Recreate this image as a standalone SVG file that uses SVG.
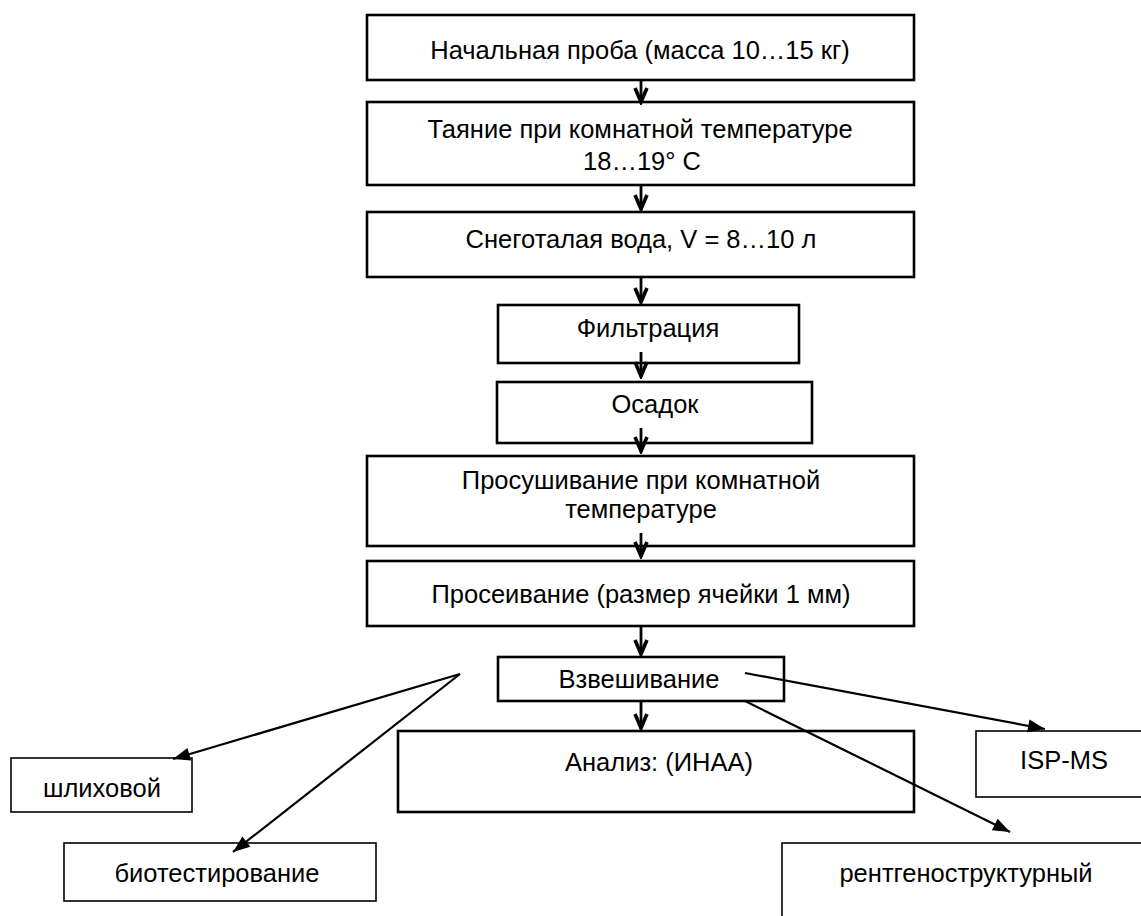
<svg xmlns="http://www.w3.org/2000/svg" width="1141" height="916" viewBox="0 0 1141 916">
<style>
.b{fill:#fff;stroke:#000;stroke-width:2.6}
.t{fill:#fff;stroke:#000;stroke-width:1.6}
text{font-family:"Liberation Sans","Open Sans",sans-serif;font-size:25.5px;fill:#000;text-anchor:middle}
.c line{stroke:#000;stroke-width:2.2}
.v line{stroke:#000;stroke-width:2.8}
</style>
<defs>
<marker id="vee" viewBox="-18 -10 20 20" markerWidth="20" markerHeight="20" refX="0" refY="0" orient="auto" markerUnits="userSpaceOnUse">
<path d="M-15,-6 L-1,0 L-15,6" fill="none" stroke="#000" stroke-width="3.6"/>
</marker>
<marker id="tri" viewBox="-18 -9 20 18" markerWidth="20" markerHeight="18" refX="0" refY="0" orient="auto" markerUnits="userSpaceOnUse">
<path d="M-17,-6.5 L0,0 L-17,6.5 Z" fill="#000"/>
</marker>
</defs>
<rect width="1141" height="916" fill="#fff"/>
<g id="n1"><rect class="b" x="367" y="15" width="547" height="65"/><text x="640" y="59">Начальная проба (масса 10…15 кг)</text></g>
<g id="n2"><rect class="b" x="367" y="102" width="547" height="83"/><text x="640" y="138">Таяние при комнатной температуре</text><text x="642" y="170">18…19° C</text></g>
<g id="n3"><rect class="b" x="367" y="212" width="547" height="65"/><text x="641" y="248">Снеготалая вода, V = 8…10 л</text></g>
<g id="n4"><rect class="b" x="498" y="305" width="301" height="58"/><text x="648" y="337">Фильтрация</text></g>
<g id="n5"><rect class="b" x="497" y="382" width="315" height="61"/><text x="655" y="413">Осадок</text></g>
<g id="n6"><rect class="b" x="367" y="456" width="547" height="90"/><text x="641" y="489">Просушивание при комнатной</text><text x="641" y="518">температуре</text></g>
<g id="n7"><rect class="b" x="367" y="561" width="547" height="65"/><text x="641" y="603">Просеивание (размер ячейки 1 мм)</text></g>
<g id="n8"><rect class="b" x="498" y="657" width="286" height="44"/><text x="639" y="688">Взвешивание</text></g>
<g id="n9"><rect class="b" x="398" y="731" width="516" height="81"/><text x="659" y="771">Анализ: (ИНАА)</text></g>
<g id="n10"><rect class="t" x="11" y="758" width="181" height="54"/><text x="102" y="797">шлиховой</text></g>
<g id="n11"><rect class="t" x="64" y="843" width="312" height="58"/><text x="217" y="882">биотестирование</text></g>
<g id="n12"><rect class="t" x="976" y="731" width="180" height="66"/><text x="1064" y="769">ISP-MS</text></g>
<g id="n13"><rect class="t" x="782" y="843" width="380" height="90"/><text x="966" y="882">рентгеноструктурный</text></g>
<g id="connectors">
<g class="v">
<line x1="641" y1="80" x2="641" y2="103" marker-end="url(#vee)"/>
<line x1="641" y1="185" x2="641" y2="210" marker-end="url(#vee)"/>
<line x1="641" y1="277" x2="641" y2="303" marker-end="url(#vee)"/>
<line x1="641" y1="352" x2="641" y2="377" marker-end="url(#vee)"/>
<line x1="641" y1="428" x2="641" y2="452" marker-end="url(#vee)"/>
<line x1="641" y1="533" x2="641" y2="557" marker-end="url(#vee)"/>
<line x1="641" y1="626" x2="641" y2="655" marker-end="url(#vee)"/>
<line x1="641" y1="701" x2="641" y2="729" marker-end="url(#vee)"/>
</g>
<g class="c">
<line x1="460" y1="674" x2="173" y2="759" marker-end="url(#tri)"/>
<line x1="460" y1="674" x2="233" y2="852" marker-end="url(#tri)"/>
<line x1="745" y1="673" x2="1045" y2="729" marker-end="url(#tri)"/>
<line x1="745" y1="701" x2="1010" y2="832" marker-end="url(#tri)"/>
</g>
</g>
</svg>
